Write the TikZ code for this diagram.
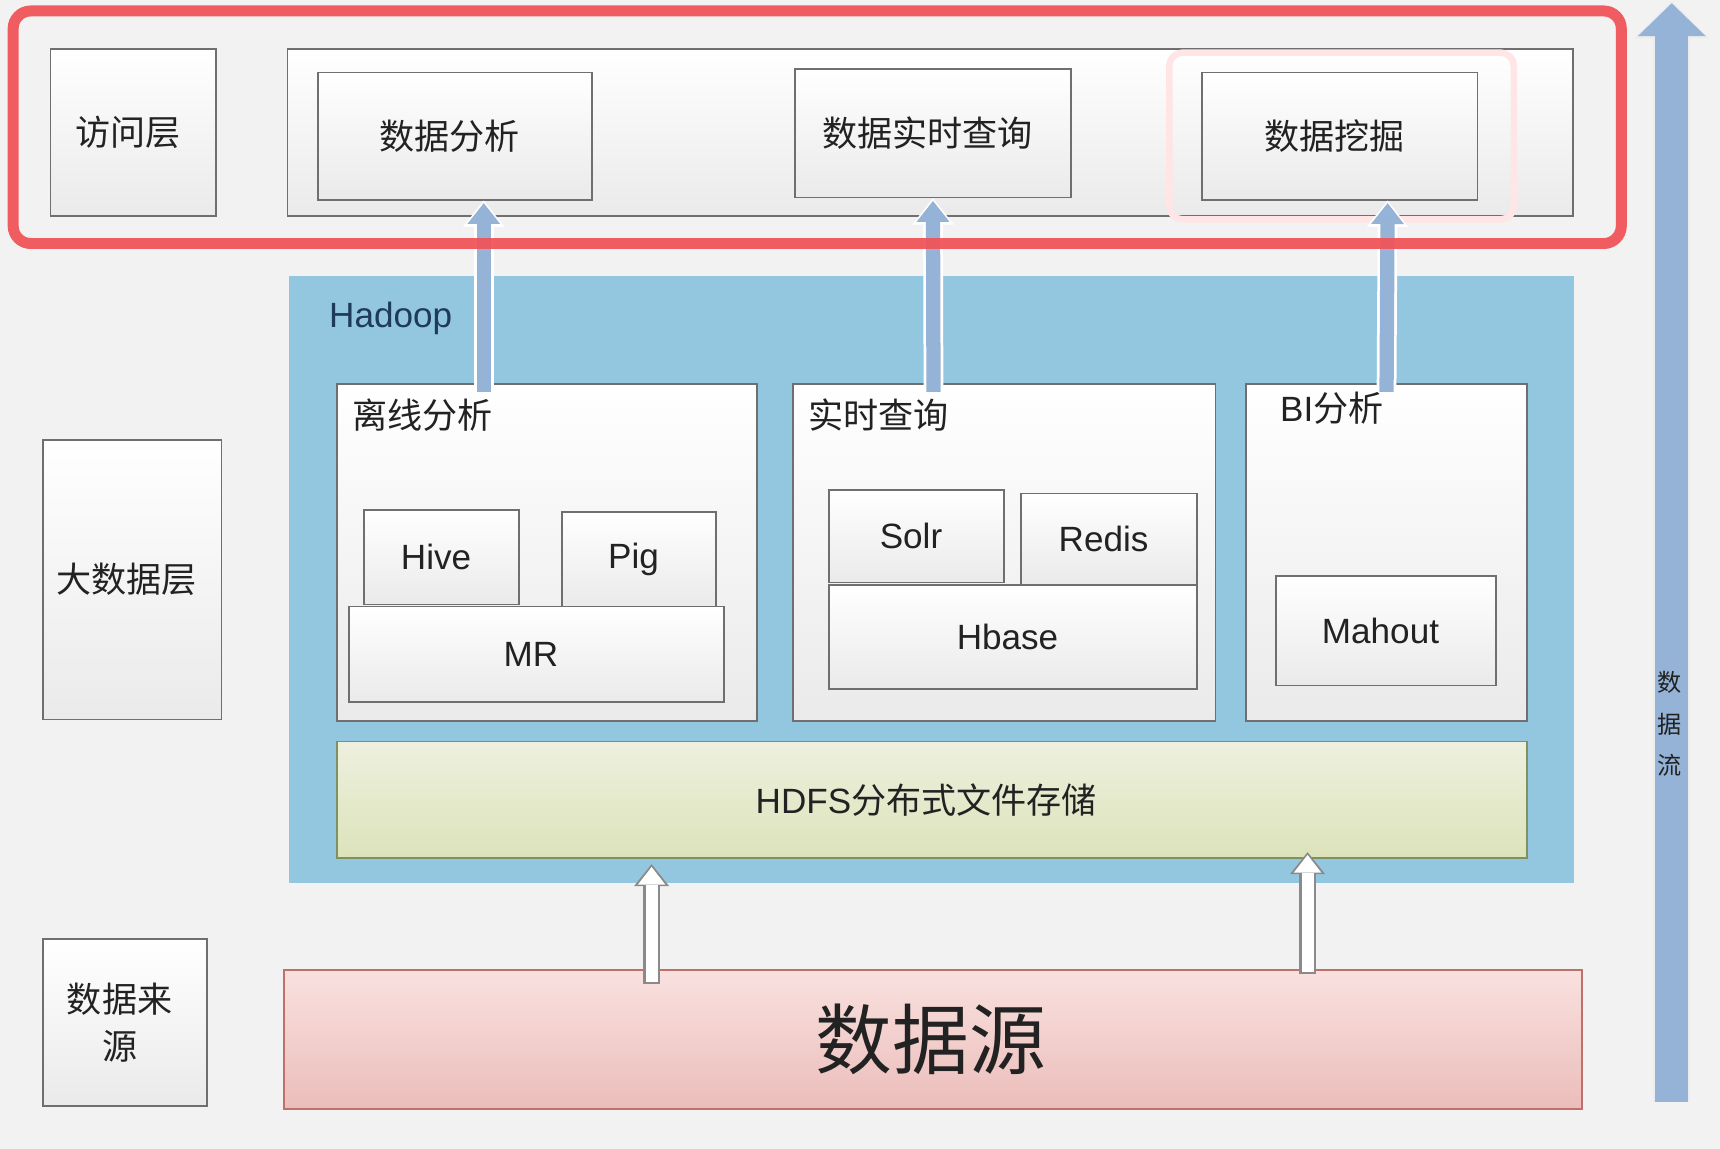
\documentclass[tikz,border=0pt]{standalone}
\usepackage{fontspec}
\setmainfont{Liberation Sans}
\newfontfamily\cjk{Noto Sans CJK SC}
\usetikzlibrary{arrows.meta,fit,calc}
\definecolor{bg}{HTML}{F2F2F2}
\definecolor{redframe}{HTML}{F0555A}
\definecolor{hadoopblue}{HTML}{93C7E0}
\definecolor{arrowblue}{HTML}{95B3D7}
\definecolor{boxline}{HTML}{6F6F6F}
\definecolor{boxbottom}{HTML}{EAEAEA}
\definecolor{hdfstop}{HTML}{EEF0DF}
\definecolor{hdfsbot}{HTML}{DCE3BA}
\definecolor{hdfsline}{HTML}{7F9160}
\definecolor{srctop}{HTML}{F9E1DF}
\definecolor{srcbot}{HTML}{EBBDBA}
\definecolor{srcline}{HTML}{C0706B}
\definecolor{txt}{HTML}{222222}
\definecolor{navy}{HTML}{1F3B5C}
\definecolor{arrline}{HTML}{8A8A8A}
\begin{document}
\begin{tikzpicture}[x=0.5pt,y=-0.5pt,
  box/.style={draw=boxline, line width=0.8pt, top color=white, bottom color=boxbottom, inner sep=0pt},
  cn/.style={font=\cjk\fontsize{16}{21.5}\selectfont, text=txt, xshift=-2.5pt},
  en/.style={font=\fontsize{16}{19}\selectfont, text=txt, xshift=-2.5pt},
  bluearrout/.style={draw=white, line width=9pt, -{Triangle[width=19pt,length=12pt,line width=0pt]}},
  bluearr/.style={draw=arrowblue, line width=6.5pt, shorten >=1.2pt, -{Triangle[width=15pt,length=9.5pt,line width=0pt]}},
  whitearrout/.style={draw=arrline, line width=7.5pt, -{Triangle[width=16pt,length=10pt,line width=0pt]}},
  whitearr/.style={draw=white, line width=5.5pt, shorten >=1.3pt, -{Triangle[width=12.5pt,length=8pt,line width=0pt]}},
  flowout/.style={draw=white!85!gray, line width=17pt, -{Triangle[width=34pt,length=17pt,line width=0pt]}},
  flowarr/.style={draw=arrowblue, line width=15pt, shorten >=1pt, -{Triangle[width=31pt,length=15pt,line width=0pt]}}
]
\useasboundingbox (0,0) rectangle (1568,1047);
\fill[bg] (0,0) rectangle (1568,1047);

% ---- access layer ----
\node[box, fit={(46,45) (197,197)}, label={[cn]center:访问层}] (fw) {};
\node[box, fit={(262,45) (1434,197)}] (accrow) {};
\node[fit={(1066,48) (1380,200)}, draw=red!10, line width=3pt, rounded corners=6pt, inner sep=0pt] (glow) {};
\node[box, fit={(290,66) (540,182)}, label={[cn]center:数据分析}] (sjfx) {};
\node[box, fit={(725,63) (976,180)}, label={[cn]center:数据实时查询}] (sjss) {};
\node[box, fit={(1096,66) (1347,182)}, label={[cn]center:数据挖掘}] (sjwj) {};

% ---- big data layer ----
\node[box, fit={(39,401) (202,656)}, label={[cn]center:大数据层}] (bigdata) {};
\node[fit={(262,250) (1436,806)}, fill=hadoopblue, draw=white!90!gray, line width=1.2pt, inner sep=0pt] (hadoop) {};
\node[anchor=west, font=\fontsize{16}{19}\selectfont, text=navy] (hlabel) at (293,290) {Hadoop};

\node[box, fit={(307,350) (690,657)}] (lxfx) {};
\node[anchor=west, cn] (lxlabel) at (319,378) {离线分析};
\node[box, fit={(332,465) (473,551)}, label={[en]center:Hive}] (hive) {};
\node[box, fit={(512,467) (653,553)}, label={[en]center:Pig}] (pig) {};
\node[box, fit={(318,553) (660,640)}, label={[en]center:MR}] (mr) {};

\node[box, fit={(723,350) (1108,657)}] (sscx) {};
\node[anchor=west, cn] (sslabel) at (735,378) {实时查询};
\node[box, fit={(756,447) (915,531)}, label={[en]center:Solr}] (solr) {};
\node[box, fit={(931,450) (1091,533)}, label={[en]center:Redis}] (redis) {};
\node[box, fit={(756,533) (1091,628)}, label={[en]center:Hbase}] (hbase) {};

\node[box, fit={(1136,350) (1392,657)}] (bi) {};
\node[anchor=west, en] (bilabel) at (1165,372) {BI{\cjk 分析}};
\node[box, fit={(1163,525) (1364,625)}, label={[en]center:Mahout}] (mahout) {};

\node[draw=hdfsline, line width=0.8pt, top color=hdfstop, bottom color=hdfsbot, inner sep=0pt, fit={(307,676) (1392,782)}, label={[en]center:HDFS{\cjk 分布式文件存储}}] (hdfs) {};

% ---- source layer ----
\node[box, fit={(39,856) (189,1008)}, label={[cn, align=center]center:数据来\\源}] (srclabel) {};
\node[draw=srcline, line width=0.8pt, top color=srctop, bottom color=srcbot, inner sep=0pt, fit={(259,884) (1442,1011)}, label={[font=\cjk\fontsize{35}{40}\selectfont, text=txt, xshift=-1pt]center:数据源}] (src) {};

% ---- arrows hadoop -> access ----
\draw[bluearrout] ([xshift=-28.75pt,yshift=-4pt]lxfx.north) -- ([xshift=13pt]sjfx.south);
\draw[bluearr] ([xshift=-28.75pt,yshift=-4pt]lxfx.north) -- ([xshift=13pt]sjfx.south);
\draw[bluearrout] ([xshift=-32.25pt,yshift=-4pt]sscx.north) -- (sjss.south);
\draw[bluearr] ([xshift=-32.25pt,yshift=-4pt]sscx.north) -- (sjss.south);
\draw[bluearrout] ([yshift=-4pt]bi.north) -- ([xshift=21.75pt]sjwj.south);
\draw[bluearr] ([yshift=-4pt]bi.north) -- ([xshift=21.75pt]sjwj.south);

% ---- arrows source -> hdfs ----
\draw[whitearrout] ([xshift=-128.25pt,yshift=-7pt]src.north) -- ([xshift=-127.75pt,yshift=-2.5pt]hdfs.south);
\draw[whitearr] ([xshift=-128.25pt,yshift=-6pt]src.north) -- ([xshift=-127.75pt,yshift=-2.5pt]hdfs.south);
\draw[whitearrout] ([xshift=170.75pt,yshift=-2.5pt]src.north) -- ([xshift=171.25pt,yshift=3pt]hdfs.south);
\draw[whitearr] ([xshift=170.75pt,yshift=-1.5pt]src.north) -- ([xshift=171.25pt,yshift=3pt]hdfs.south);

% ---- red frame on top ----
\node[fit={(12,10) (1478,222)}, draw=redframe, line width=5pt, rounded corners=8pt, inner sep=0pt, opacity=0.95] (frame) {};

% ---- data flow arrow ----
\coordinate (flowb) at (1524,1005);
\coordinate (flowt) at (1524,1);
\draw[flowout] (flowb) -- (flowt);
\draw[flowarr] (flowb) -- (flowt);
\node[font=\cjk\fontsize{11}{19}\selectfont, text=txt, align=center] (flowlabel) at (1522,660) {数\\据\\流};
\end{tikzpicture}
\end{document}
